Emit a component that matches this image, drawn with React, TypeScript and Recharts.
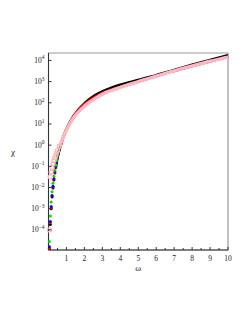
import React from 'react';
import { ComposedChart, Line, Scatter, XAxis, YAxis, ReferenceArea } from 'recharts';

// frequency grid shared by every series
const omega = [0.05, 0.1, 0.15, 0.2, 0.25, 0.3, 0.35, 0.4, 0.45, 0.5, 0.6, 0.7, 0.8, 0.9, 1.0, 1.2, 1.4, 1.6, 1.8, 2.0, 2.25, 2.5, 2.75, 3.0, 3.5, 4.0, 4.5, 5.0, 5.5, 6, 7, 8, 9, 10];

// chi values read as log10(chi)
const blackLog10 = [-4.9, -3.75, -3.0, -2.45, -2.02, -1.64, -1.32, -1.05, -0.82, -0.6, -0.25, 0.05, 0.32, 0.55, 0.75, 1.1, 1.38, 1.6, 1.8, 1.97, 2.15, 2.3, 2.43, 2.54, 2.71, 2.85, 2.97, 3.08, 3.19, 3.3, 3.55, 3.79, 4.02, 4.24];
const redLog10 = [-4.87, -3.65, -2.95, -2.4, -1.97, -1.6, -1.29, -1.02, -0.8, -0.58, -0.23, 0.06, 0.32, 0.55, 0.75, 1.09, 1.37, 1.59, 1.78, 1.94, 2.1, 2.23, 2.35, 2.46, 2.62, 2.75, 2.88, 3.0, 3.13, 3.26, 3.5, 3.73, 3.95, 4.17];
const blueLog10 = [-4.8, -3.6, -2.9, -2.38, -1.94, -1.57, -1.26, -1.0, -0.77, -0.56, -0.22, 0.06, 0.31, 0.53, 0.72, 1.05, 1.31, 1.52, 1.7, 1.85, 2.01, 2.15, 2.28, 2.4, 2.58, 2.72, 2.86, 2.99, 3.12, 3.25, 3.5, 3.73, 3.95, 4.17];
const greenLog10 = [-4.55, -3.35, -2.68, -2.2, -1.8, -1.47, -1.18, -0.94, -0.72, -0.52, -0.2, 0.07, 0.31, 0.52, 0.7, 1.03, 1.29, 1.5, 1.68, 1.83, 2.0, 2.14, 2.27, 2.39, 2.57, 2.72, 2.86, 2.99, 3.12, 3.25, 3.5, 3.73, 3.95, 4.17];
const pinkLog10 = [-4.0, -1.5, -1.27, -1.05, -0.88, -0.73, -0.6, -0.48, -0.36, -0.25, -0.05, 0.12, 0.33, 0.53, 0.71, 1.04, 1.3, 1.51, 1.69, 1.84, 2.01, 2.15, 2.28, 2.4, 2.58, 2.73, 2.87, 3.0, 3.13, 3.26, 3.51, 3.74, 3.96, 4.16];

const yTicks = [1e-4, 1e-3, 1e-2, 1e-1, 1, 10, 100, 1000, 10000];
const xTicks = [0.5, 1, 1.5, 2, 2.5, 3, 3.5, 4, 4.5, 5, 5.5, 6, 6.5, 7, 7.5, 8, 8.5, 9, 9.5, 10];

const Y_MIN = Math.pow(10, -4.95);
const Y_MAX = Math.pow(10, 4.35);
const FONT = '"Liberation Serif", "DejaVu Serif", serif';

const toPoints = (logs: number[]) => omega.map((w, i) => ({ x: w, y: Math.pow(10, logs[i]) }));

const series = [
  { name: 'black', color: '#000000', logs: blackLog10, width: 2.6, lineFrom: 0.4, dotsTo: 0.45 },
  { name: 'red', color: '#ff0000', logs: redLog10, width: 2.4, lineFrom: 0.4, dotsTo: 0.45 },
  { name: 'blue', color: '#0000ff', logs: blueLog10, width: 2.2, lineFrom: 0.4, dotsTo: 0.45 },
  { name: 'green', color: '#00dd00', logs: greenLog10, width: 2.0, lineFrom: 0.4, dotsTo: 0.45 },
  { name: 'pink', color: '#ffb6c1', logs: pinkLog10, width: 3.4, lineFrom: 0.6, dotsTo: 0.6 },
];

const YTick = ({ x, y, payload }: any) => {
  const e = Math.round(Math.log10(payload.value));
  return (
    <g>
      <line x1={x} x2={x + 3} y1={y} y2={y} stroke="#333" />
      <text x={x - 4} y={y + 2.5} textAnchor="end" fontSize={7.5} fontFamily={FONT} fill="#222">
        10<tspan dy={-3.5} fontSize={5.5}>{e < 0 ? '\u2212' + -e : String(e)}</tspan>
      </text>
    </g>
  );
};

const XTick = ({ x, y, payload }: any) => {
  const v = payload.value;
  const major = Number.isInteger(v);
  return (
    <g>
      <line x1={x} x2={x} y1={y} y2={y - (major ? 3 : 2)} stroke="#333" />
      {major && (
        <text x={x} y={y + 11} textAnchor="middle" fontSize={7.5} fontFamily={FONT} fill="#222">
          {v}
        </text>
      )}
    </g>
  );
};

export default function App() {
  return (
    <div style={{ position: 'absolute', left: 0, top: 0, background: '#fff' }}>
      <ComposedChart width={249} height={323} margin={{ top: 53, right: 21, bottom: 0, left: 0 }}>
        <XAxis
          dataKey="x"
          type="number"
          domain={[0, 10]}
          ticks={xTicks}
          interval={0}
          height={73}
          tickSize={0}
          tickMargin={0}
          tickLine={false}
          tick={<XTick />}
          axisLine={{ stroke: '#333' }}
          label={{ value: 'ω', position: 'insideTop', offset: 15, fontSize: 9, fontFamily: FONT, fill: '#222' }}
        />
        <YAxis
          dataKey="y"
          type="number"
          scale="log"
          domain={[Y_MIN, Y_MAX]}
          allowDataOverflow
          ticks={yTicks}
          interval={0}
          width={48.5}
          tickSize={0}
          tickMargin={0}
          tickLine={false}
          tick={<YTick />}
          axisLine={{ stroke: '#333' }}
          label={{ value: 'χ', position: 'insideLeft', offset: 11, fontSize: 9, fontFamily: FONT, fill: '#222' }}
        />
        <ReferenceArea x1={0} x2={10} y1={Y_MIN} y2={Y_MAX} fill="none" stroke="#999" strokeWidth={1.2} ifOverflow="visible" />
        {series.map((s) => {
          const pts = toPoints(s.logs);
          return [
            <Line
              key={s.name + '-line'}
              data={pts.filter((p) => p.x >= s.lineFrom)}
              dataKey="y"
              type="monotone"
              stroke={s.color}
              strokeWidth={s.width}
              dot={false}
              activeDot={false}
              isAnimationActive={false}
            />,
            <Scatter
              key={s.name + '-pts'}
              data={pts.filter((p) => p.x <= s.dotsTo)}
              dataKey="y"
              isAnimationActive={false}
              shape={(p: any) =>
                s.name === 'pink' ? (
                  <circle cx={p.cx} cy={p.cy} r={2} fill="none" stroke={s.color} strokeWidth={1.2} />
                ) : (
                  <circle cx={p.cx} cy={p.cy} r={1.5} fill={s.color} />
                )
              }
            />,
          ];
        })}
      </ComposedChart>
    </div>
  );
}
